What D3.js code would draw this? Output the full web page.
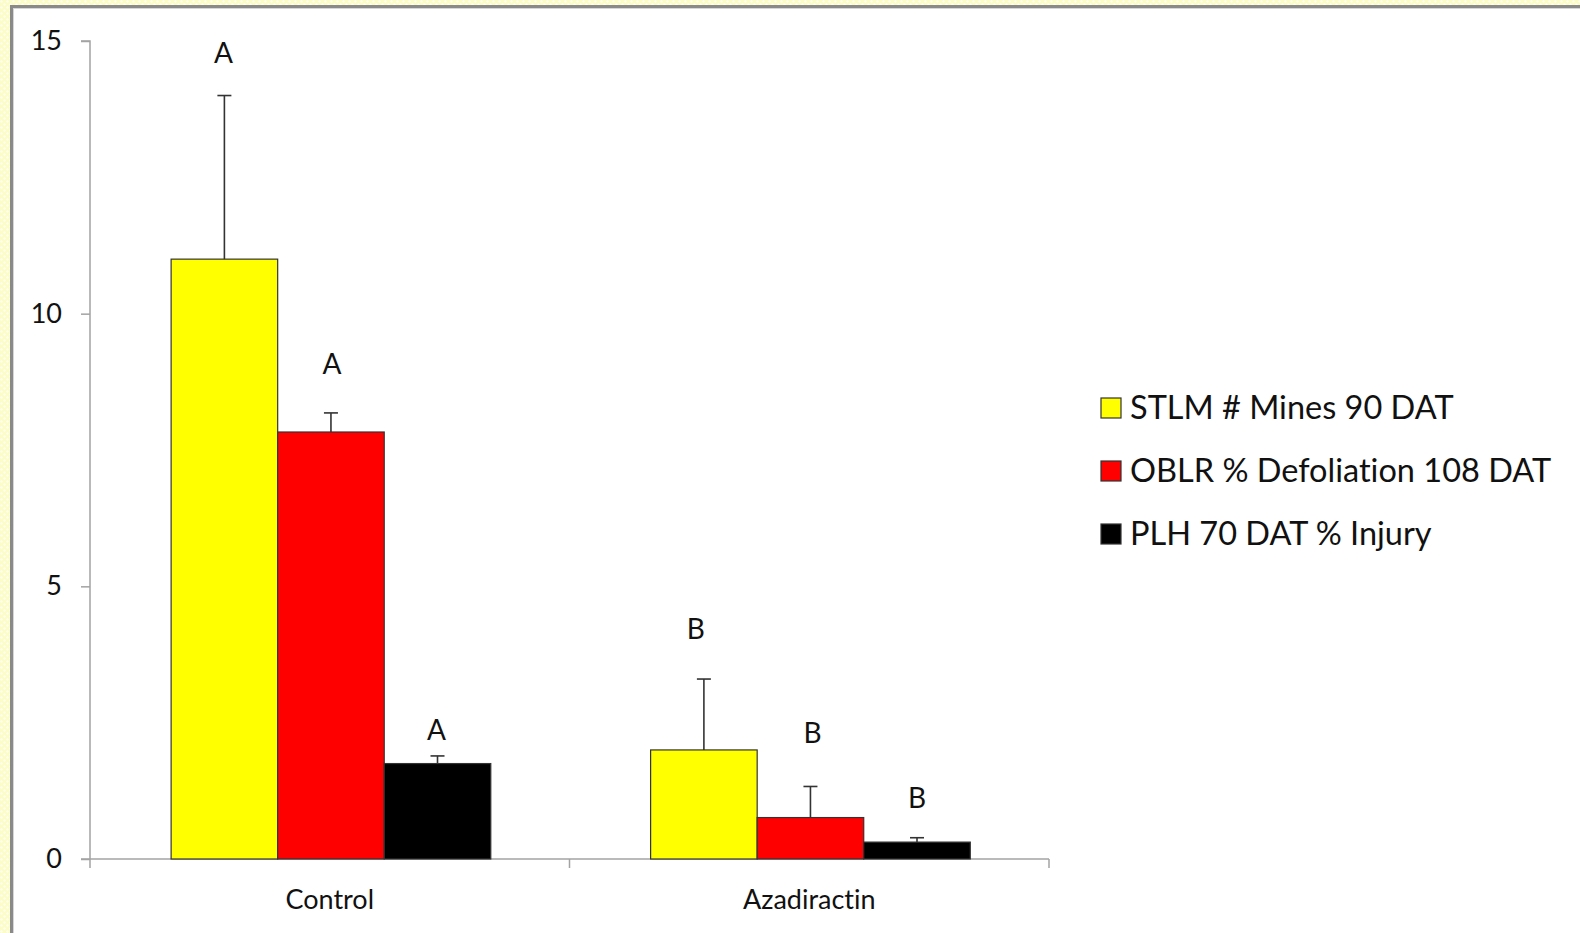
<!DOCTYPE html>
<html>
<head>
<meta charset="utf-8">
<script src="https://cdn.jsdelivr.net/npm/d3@7"></script>
<style>
  html, body { margin: 0; padding: 0; background: #fff; }
  svg { display: block; }
  text { font-family: Lato, "Open Sans", sans-serif; fill: #111; font-variant-ligatures: none; font-feature-settings: "liga" 0, "clig" 0; }
</style>
</head>
<body>
<svg id="chart" width="1580" height="933"></svg>
<script>
// Treatments on the x axis
const categories = ["Control", "Azadiractin"];

// Series shown in the legend
const seriesNames = ["STLM # Mines 90 DAT", "OBLR % Defoliation 108 DAT", "PLH 70 DAT % Injury"];
const seriesColors = ["#ffff00", "#ff0000", "#000000"];

// Mean values per series, one entry per treatment
const stlmMines = [11.0, 2.0];
const oblrDefoliation = [7.83, 0.76];
const plhInjury = [1.75, 0.31];

// Standard errors (plotted above the bar only)
const stlmErr = [3.0, 1.3];
const oblrErr = [0.35, 0.57];
const plhErr = [0.14, 0.08];

// Mean-separation letters and the value level where each letter sits
const stlmLetters = ["A", "B"];
const oblrLetters = ["A", "B"];
const plhLetters = ["A", "B"];
const stlmLetterLevel = [14.6, 4.03];
const oblrLetterLevel = [8.89, 2.13];
const plhLetterLevel = [2.18, 0.94];

// Y axis ticks
const yTicks = [0, 5, 10, 15];

const seriesValues = [stlmMines, oblrDefoliation, plhInjury];
const seriesErrors = [stlmErr, oblrErr, plhErr];
const seriesLetters = [stlmLetters, oblrLetters, plhLetters];
const seriesLetterLevels = [stlmLetterLevel, oblrLetterLevel, plhLetterLevel];
// small horizontal nudges for letters that sit off-centre (px)
const letterNudge = [[-1, -8], [1, 2], [-1, 0]];

const svg = d3.select("#chart");
const W = 1580, H = 933;

// dotted pale-yellow backdrop
const defs = svg.append("defs");
const pat = defs.append("pattern")
  .attr("id", "dots").attr("width", 6).attr("height", 6)
  .attr("patternUnits", "userSpaceOnUse");
pat.append("rect").attr("width", 6).attr("height", 6).attr("fill", "#fcfcc6");
pat.append("circle").attr("cx", 1.5).attr("cy", 1.5).attr("r", 1.3).attr("fill", "#fffff0");
pat.append("circle").attr("cx", 4.5).attr("cy", 4.5).attr("r", 1.3).attr("fill", "#fffff0");
svg.append("rect").attr("width", W).attr("height", H).attr("fill", "url(#dots)");

// white panel with grey frame and soft shadow
svg.append("rect").attr("x", 11.5).attr("y", 6.5).attr("width", W).attr("height", H)
  .attr("fill", "#fff").attr("stroke", "#8a8a8a").attr("stroke-width", 3);
svg.append("line").attr("x1", 13).attr("x2", W).attr("y1", 8.5).attr("y2", 8.5)
  .attr("stroke", "#d6d6d6").attr("stroke-width", 1);
svg.append("line").attr("x1", 13.5).attr("x2", 13.5).attr("y1", 8).attr("y2", H)
  .attr("stroke", "#d6d6d6").attr("stroke-width", 1);

// plot area
const plot = { left: 90, right: 1049, top: 41, bottom: 859 };

const y = d3.scaleLinear().domain([0, 15]).range([plot.bottom, plot.top]);
const x0 = d3.scaleBand().domain(categories).range([plot.left, plot.right]).padding(0);
const x1 = d3.scaleBand().domain(d3.range(seriesNames.length))
  .range([0, x0.bandwidth()]).paddingInner(0).paddingOuter(0.75);

const axisColor = "#a3a3a3";

// y axis
const yAxis = svg.append("g").attr("transform", `translate(${plot.left},0)`)
  .call(d3.axisLeft(y).tickValues(yTicks).tickSize(9).tickPadding(19).tickFormat(d3.format("d")));
yAxis.select(".domain").attr("stroke", axisColor).attr("stroke-width", 1.5)
  .attr("d", `M-9,${plot.top}H0V${plot.bottom}`);
yAxis.selectAll(".tick line").attr("stroke", axisColor).attr("stroke-width", 1.5);
yAxis.selectAll(".tick text").style("font-size", "27px").attr("fill", "#111")
  .style("font-family", "Lato, sans-serif");

// x axis with category boundary ticks
const xAxisG = svg.append("g").attr("transform", `translate(0,${plot.bottom})`);
xAxisG.append("line").attr("x1", plot.left - 9).attr("x2", plot.right)
  .attr("stroke", axisColor).attr("stroke-width", 1.5);
const boundaries = categories.map(c => x0(c)).concat([x0(categories[categories.length - 1]) + x0.bandwidth()]);
xAxisG.selectAll("line.bound").data(boundaries).join("line").attr("class", "bound")
  .attr("x1", d => d).attr("x2", d => d).attr("y1", 0).attr("y2", 9)
  .attr("stroke", axisColor).attr("stroke-width", 1.5);
xAxisG.selectAll("text.cat").data(categories).join("text").attr("class", "cat")
  .attr("x", d => x0(d) + x0.bandwidth() / 2).attr("y", 50)
  .attr("text-anchor", "middle").style("font-size", "27px").text(d => d);

// bars, error bars and letters
const groups = svg.append("g").selectAll("g").data(categories).join("g")
  .attr("transform", d => `translate(${x0(d) + 1.2},0)`);

groups.each(function (cat, ci) {
  const g = d3.select(this);
  seriesNames.forEach((s, si) => {
    const v = seriesValues[si][ci];
    const e = seriesErrors[si][ci];
    const bx = x1(si), bw = x1.bandwidth();
    g.append("rect").attr("x", bx).attr("y", y(v)).attr("width", bw)
      .attr("height", y(0) - y(v)).attr("fill", seriesColors[si])
      .attr("stroke", "#333").attr("stroke-width", 1.2);
    const cx = bx + bw / 2;
    g.append("line").attr("x1", cx).attr("x2", cx).attr("y1", y(v)).attr("y2", y(v + e))
      .attr("stroke", "#333").attr("stroke-width", 1.6);
    g.append("line").attr("x1", cx - 7).attr("x2", cx + 7).attr("y1", y(v + e)).attr("y2", y(v + e))
      .attr("stroke", "#333").attr("stroke-width", 1.6);
    g.append("text").attr("x", cx + letterNudge[si][ci]).attr("y", y(seriesLetterLevels[si][ci]))
      .attr("text-anchor", "middle").style("font-size", "28px").text(seriesLetters[si][ci]);
  });
});

// legend
const legend = svg.append("g").attr("transform", "translate(1101,398)");
const items = legend.selectAll("g").data(seriesNames).join("g")
  .attr("transform", (d, i) => `translate(0,${i * 63})`);
items.append("rect").attr("width", 20).attr("height", 20)
  .attr("fill", (d, i) => seriesColors[i]).attr("stroke", "#333").attr("stroke-width", 1.2);
items.append("text").attr("x", 29).attr("y", 20.5).style("font-size", "32.5px").text(d => d);
</script>
</body>
</html>
